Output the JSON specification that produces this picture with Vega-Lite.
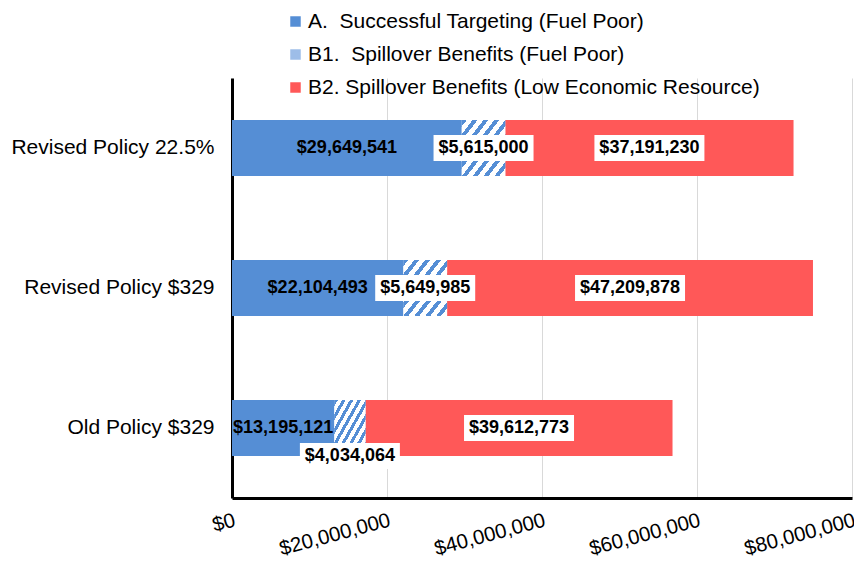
{
  "$schema": "https://vega.github.io/schema/vega-lite/v6.json",
  "width": 620,
  "height": 420,
  "autosize": {"type": "none"},
  "padding": {"left": 232, "top": 78, "right": 2, "bottom": 70},
  "config": {"view": {"stroke": null}, "font": "Liberation Sans"},
  "data": {
    "values": [
      {"policy": "Revised Policy 22.5%", "series": "A.\u00a0 Successful Targeting (Fuel Poor)", "value": 29649541},
      {"policy": "Revised Policy 22.5%", "series": "B1.\u00a0 Spillover Benefits (Fuel Poor)", "value": 5615000},
      {"policy": "Revised Policy 22.5%", "series": "B2. Spillover Benefits (Low Economic Resource)", "value": 37191230},
      {"policy": "Revised Policy $329", "series": "A.\u00a0 Successful Targeting (Fuel Poor)", "value": 22104493},
      {"policy": "Revised Policy $329", "series": "B1.\u00a0 Spillover Benefits (Fuel Poor)", "value": 5649985},
      {"policy": "Revised Policy $329", "series": "B2. Spillover Benefits (Low Economic Resource)", "value": 47209878},
      {"policy": "Old Policy $329\u00a0", "series": "A.\u00a0 Successful Targeting (Fuel Poor)", "value": 13195121},
      {"policy": "Old Policy $329\u00a0", "series": "B1.\u00a0 Spillover Benefits (Fuel Poor)", "value": 4034064},
      {"policy": "Old Policy $329\u00a0", "series": "B2. Spillover Benefits (Low Economic Resource)", "value": 39612773}
    ]
  },
  "transform": [
    {"stack": "value", "groupby": ["policy"], "sort": [{"field": "series", "order": "ascending"}], "as": ["x0", "x1"]},
    {"calculate": "(datum.x0 + datum.x1) / 2", "as": "mid"}
  ],
  "encoding": {
    "y": {
      "field": "policy",
      "type": "nominal",
      "sort": ["Revised Policy 22.5%", "Revised Policy $329", "Old Policy $329\u00a0"],
      "scale": {"paddingInner": 0.6, "paddingOuter": 0.3},
      "axis": {
        "title": null,
        "ticks": false,
        "domainColor": "black",
        "domainWidth": 3,
        "labelFontSize": 21,
        "labelColor": "black",
        "labelPadding": 18,
        "grid": false,
        "labelLimit": 300
      }
    }
  },
  "layer": [
    {
      "mark": {"type": "bar"},
      "encoding": {
        "x": {
          "field": "x0",
          "type": "quantitative",
          "scale": {"domain": [0, 80000000], "nice": false},
          "axis": {
            "title": null,
            "values": [0, 20000000, 40000000, 60000000, 80000000],
            "format": "$,.0f",
            "ticks": false,
            "domainColor": "black",
            "domainWidth": 3,
            "gridColor": "#d9d9d9",
            "gridWidth": 1,
            "labelAngle": -15,
            "labelAlign": "right",
            "labelBaseline": "top",
            "labelFontSize": 20.5,
            "labelColor": "black",
            "labelPadding": 12,
            "labelFlush": false,
            "labelOverlap": false,
            "labelBound": false
          }
        },
        "x2": {"field": "x1"},
        "color": {
          "field": "series",
          "type": "nominal",
          "scale": {
            "domain": ["A.\u00a0 Successful Targeting (Fuel Poor)", "B1.\u00a0 Spillover Benefits (Fuel Poor)", "B2. Spillover Benefits (Low Economic Resource)"],
            "range": ["#558ed5", "#9dbde8", "#ff5858"]
          },
          "legend": {
            "orient": "none",
            "legendX": 53,
            "legendY": -67,
            "title": null,
            "padding": 0,
            "labelFontSize": 21,
            "labelColor": "black",
            "labelLimit": 700,
            "labelOffset": 2,
            "symbolType": "square",
            "symbolSize": 110,
            "symbolStrokeWidth": 0,
            "rowPadding": 11
          }
        }
      }
    },
    {
      "transform": [{"filter": "indexof(datum.series, 'B1') === 0"}],
      "mark": {
        "type": "bar",
        "fill": {
          "gradient": "linear", "x1": 0, "y1": 0, "x2": 1, "y2": 1,
          "stops": [
            {"offset": 0, "color": "#558ed5"}, {"offset": 0.05625, "color": "#558ed5"}, {"offset": 0.05625, "color": "white"}, {"offset": 0.125, "color": "white"},
            {"offset": 0.125, "color": "#558ed5"}, {"offset": 0.18125, "color": "#558ed5"}, {"offset": 0.18125, "color": "white"}, {"offset": 0.25, "color": "white"},
            {"offset": 0.25, "color": "#558ed5"}, {"offset": 0.30625, "color": "#558ed5"}, {"offset": 0.30625, "color": "white"}, {"offset": 0.375, "color": "white"},
            {"offset": 0.375, "color": "#558ed5"}, {"offset": 0.43125, "color": "#558ed5"}, {"offset": 0.43125, "color": "white"}, {"offset": 0.5, "color": "white"},
            {"offset": 0.5, "color": "#558ed5"}, {"offset": 0.55625, "color": "#558ed5"}, {"offset": 0.55625, "color": "white"}, {"offset": 0.625, "color": "white"},
            {"offset": 0.625, "color": "#558ed5"}, {"offset": 0.68125, "color": "#558ed5"}, {"offset": 0.68125, "color": "white"}, {"offset": 0.75, "color": "white"},
            {"offset": 0.75, "color": "#558ed5"}, {"offset": 0.80625, "color": "#558ed5"}, {"offset": 0.80625, "color": "white"}, {"offset": 0.875, "color": "white"},
            {"offset": 0.875, "color": "#558ed5"}, {"offset": 0.93125, "color": "#558ed5"}, {"offset": 0.93125, "color": "white"}, {"offset": 1, "color": "white"}
          ]
        }
      },
      "encoding": {
        "x": {"field": "x0", "type": "quantitative"},
        "x2": {"field": "x1"}
      }
    },
    {
      "transform": [{"filter": "indexof(datum.series, 'A') !== 0 && !(indexof(datum.policy, 'Old') === 0 && indexof(datum.series, 'B1') === 0)"}],
      "mark": {"type": "point", "filled": true, "fill": "white", "opacity": 1, "strokeWidth": 0},
      "encoding": {
        "x": {"field": "mid", "type": "quantitative"},
        "shape": {"condition": {"test": "datum.value >= 10000000", "value": "M-1,-0.236H1V0.236H-1Z"}, "value": "M-1,-0.26H1V0.26H-1Z"},
        "size": {"condition": {"test": "datum.value >= 10000000", "value": 12100}, "value": 10000}
      }
    },
    {
      "transform": [{"filter": "indexof(datum.policy, 'Old') === 0 && indexof(datum.series, 'B1') === 0"}],
      "mark": {"type": "point", "filled": true, "fill": "white", "opacity": 1, "strokeWidth": 0, "yOffset": 28, "shape": "M-1,-0.26H1V0.26H-1Z", "size": 10000},
      "encoding": {
        "x": {"field": "mid", "type": "quantitative"}
      }
    },
    {
      "transform": [{"filter": "!(indexof(datum.policy, 'Old') === 0 && indexof(datum.series, 'B1') === 0)"}],
      "mark": {"type": "text", "fontWeight": "bold", "fontSize": 18, "color": "black", "baseline": "middle", "align": "center"},
      "encoding": {
        "x": {"field": "mid", "type": "quantitative"},
        "text": {"field": "value", "type": "quantitative", "format": "$,.0f"}
      }
    },
    {
      "transform": [{"filter": "indexof(datum.policy, 'Old') === 0 && indexof(datum.series, 'B1') === 0"}],
      "mark": {"type": "text", "fontWeight": "bold", "fontSize": 18, "color": "black", "baseline": "middle", "align": "center", "yOffset": 28},
      "encoding": {
        "x": {"field": "mid", "type": "quantitative"},
        "text": {"field": "value", "type": "quantitative", "format": "$,.0f"}
      }
    }
  ]
}
